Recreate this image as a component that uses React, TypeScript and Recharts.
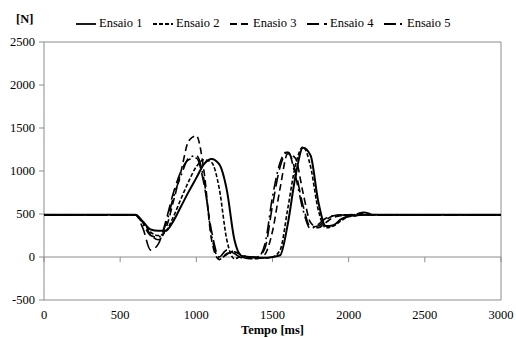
import { LineChart, Line, XAxis, YAxis, ReferenceLine, ReferenceArea } from 'recharts';

const times = [
  0, 600, 650, 700, 750, 800, 850, 900, 950, 1000, 1050, 1100, 1150, 1200, 1250, 1300, 1350, 1400,
  1450, 1500, 1550, 1600, 1650, 1700, 1750, 1800, 1850, 1900, 1950, 2000, 2050, 2100, 2150, 2200,
  2500, 3000,
];

const ensaio1 = [
  490, 490, 410, 320, 305, 305, 420, 590, 760, 920, 1080, 1140, 1080, 780, 200, 10, 0, -10,
  -10, 0, 20, 380, 930, 1270, 1180, 650, 360, 370, 440, 475, 485, 490, 490, 490,
  490, 490,
];
const ensaio2 = [
  490, 490, 400, 290, 250, 300, 470, 680, 880, 1050, 1130, 1100, 800, 200, -20, 10, 0, -10,
  -10, 0, 80, 560, 1060, 1280, 1050, 550, 340, 360, 420, 470, 480, 500, 490, 490,
  490, 490,
];
const ensaio3 = [
  490, 490, 400, 260, 200, 330, 650, 1000, 1350, 1410, 1000, 200, -30, 40, 60, 20, -10, -20,
  30, 300, 800, 1200, 1150, 750, 400, 340, 400, 460, 480, 490, 500, 510, 495, 490,
  490, 490,
];
const ensaio4 = [
  490, 490, 330, 80, 150, 420, 750, 1000, 1130, 1150, 850, 300, 0, 80, 40, -10, 0, 0,
  100, 600, 1050, 1220, 1000, 600, 350, 360, 430, 480, 490, 490, 490, 490, 490, 490,
  490, 490,
];
const ensaio5 = [
  490, 490, 380, 250, 230, 380, 700, 950, 1150, 1180, 900, 250, -20, 30, 70, 0, -20, -10,
  150, 700, 1100, 1230, 950, 550, 330, 380, 450, 480, 490, 480, 500, 520, 500, 490,
  490, 490,
];

const xTicks = [0, 500, 1000, 1500, 2000, 2500, 3000];
const yTicks = [-500, 0, 500, 1000, 1500, 2000, 2500];

const seriesNames = ['Ensaio 1', 'Ensaio 2', 'Enasio 3', 'Ensaio 4', 'Ensaio 5'];
const seriesValues = [ensaio1, ensaio2, ensaio3, ensaio4, ensaio5];
const dashes = ['', '4 2', '7 4', '12 5', '12 4 2 4'];

const data = times.map((t, i) => {
  const row: Record<string, number> = { t };
  seriesValues.forEach((vals, k) => {
    row['s' + k] = vals[i];
  });
  return row;
});

const font = "'Times New Roman', 'Liberation Serif', 'DejaVu Serif', serif";
const gray = '#8c8c8c';

const LegendRow = () => (
  <div
    style={{
      position: 'absolute',
      top: 16,
      left: 76,
      display: 'flex',
      fontFamily: font,
      fontSize: 12.5,
      color: '#000',
    }}
  >
    {seriesNames.map((name, k) => (
      <div key={name} style={{ width: 77, display: 'flex', alignItems: 'center' }}>
        <svg width={20} height={10} style={{ marginRight: 3 }}>
          <line
            x1={0}
            y1={5}
            x2={20}
            y2={5}
            stroke="#000"
            strokeWidth={1.8}
            strokeDasharray={dashes[k] || undefined}
          />
        </svg>
        <span>{name}</span>
      </div>
    ))}
  </div>
);

const App = () => {
  return (
    <div style={{ position: 'relative', width: 516, height: 338, background: '#fff', fontFamily: font }}>
      <style>{`body{margin:0}`}</style>
      <div
        style={{
          position: 'absolute',
          top: 12,
          left: 16,
          fontFamily: font,
          fontSize: 12.5,
          fontWeight: 'bold',
        }}
      >
        [N]
      </div>
      <LegendRow />
      <LineChart
        width={516}
        height={338}
        data={data}
        margin={{ top: 42, right: 15, left: 0, bottom: 0 }}
        style={{ fontFamily: font }}
      >
        <ReferenceArea
          x1={0}
          x2={3000}
          y1={-500}
          y2={2500}
          fill="none"
          stroke={gray}
          strokeWidth={1}
        />
        <ReferenceLine y={0} stroke={gray} />
        {xTicks.map(t => (
          <ReferenceLine
            key={t}
            segment={[
              { x: t, y: 0 },
              { x: t, y: -60 },
            ]}
            stroke={gray}
          />
        ))}
        <XAxis
          dataKey="t"
          type="number"
          domain={[0, 3000]}
          ticks={xTicks}
          height={38}
          axisLine={false}
          tickLine={false}
          tickSize={6}
          tickMargin={4}
          tick={{ fontFamily: font, fontSize: 12.5, fill: '#000' }}
          label={{
            value: 'Tempo [ms]',
            position: 'insideBottom',
            offset: 4,
            style: { fontFamily: font, fontSize: 12.5, fontWeight: 'bold', fill: '#000' },
          }}
        />
        <YAxis
          type="number"
          domain={[-500, 2500]}
          ticks={yTicks}
          width={44}
          axisLine={false}
          tickLine={{ stroke: gray }}
          tickSize={5}
          tickMargin={4}
          tick={{ fontFamily: font, fontSize: 12.5, fill: '#000' }}
        />
        {seriesNames.map((name, k) => (
          <Line
            key={name}
            name={name}
            dataKey={'s' + k}
            type="monotone"
            stroke="#000"
            strokeWidth={k === 0 ? 2 : 1.6}
            strokeDasharray={dashes[k] || undefined}
            dot={false}
            isAnimationActive={false}
          />
        ))}
      </LineChart>
    </div>
  );
};

export default App;
